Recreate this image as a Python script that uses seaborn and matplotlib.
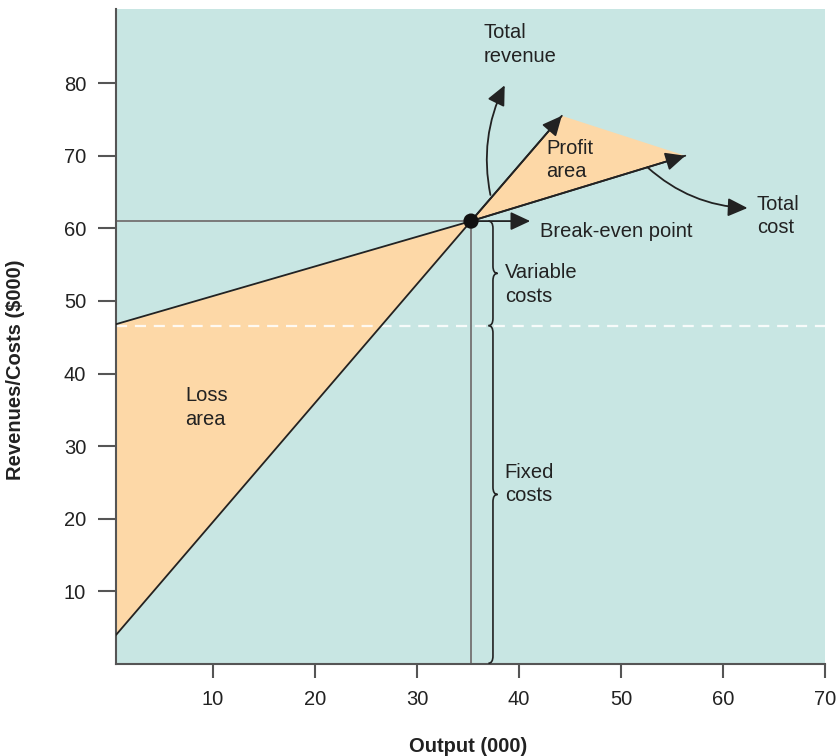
import matplotlib.pyplot as plt
from matplotlib.path import Path
from matplotlib.patches import PathPatch
import pandas as pd
import seaborn as sns

# values
output_tr = [0.5, 35.3, 44.2]
revenue = [4.0, 61.0, 75.5]
output_tc = [0.5, 35.3, 56.3]
cost = [46.8, 61.0, 70.0]
break_even_x = 35.3
break_even_y = 61.0
fixed_cost = 46.6
x_ticks = [10, 20, 30, 40, 50, 60, 70]
y_ticks = [10, 20, 30, 40, 50, 60, 70, 80]

TEAL = '#c8e6e3'
PEACH = '#fdd8a7'
DARK = '#222222'
GREY = '#7a7a7a'
FS = 14.5

sns.set_theme(style='ticks')
plt.rcParams['font.family'] = ['Liberation Sans', 'DejaVu Sans']

fig, ax = plt.subplots(figsize=(8.37, 7.56), dpi=100)
fig.subplots_adjust(left=0.1386, right=0.9857, bottom=0.1217, top=0.988)
ax.set_facecolor(TEAL)

# loss and profit areas
ax.fill_between(output_tr[:2], revenue[:2], cost[:2], color=PEACH, lw=0, zorder=1)
ax.fill([break_even_x, output_tr[2], output_tc[2]],
        [break_even_y, revenue[2], cost[2]], color=PEACH, lw=0, zorder=1)

# fixed cost level
ax.axhline(fixed_cost, color='white', lw=1.6, dashes=(5, 3.5), alpha=0.85, zorder=2)

# guide lines to the break-even point
ax.hlines(break_even_y, output_tr[0], break_even_x, color=GREY, lw=1.4, zorder=2)
ax.vlines(break_even_x, 0, break_even_y, color=GREY, lw=1.4, zorder=2)

tr = pd.DataFrame({'output': output_tr, 'value': revenue})
tc = pd.DataFrame({'output': output_tc, 'value': cost})
sns.lineplot(data=tr, x='output', y='value', color=DARK, lw=1.3, ax=ax, zorder=3)
sns.lineplot(data=tc, x='output', y='value', color=DARK, lw=1.3, ax=ax, zorder=3)

head = '-|>,head_length=0.6,head_width=0.28'
arrow = dict(arrowstyle=head, color=DARK, lw=1.3, mutation_scale=20,
             shrinkA=0, shrinkB=0)
for xs, ys in [(output_tr, revenue), (output_tc, cost)]:
    ax.annotate('', xy=(xs[-1], ys[-1]), xytext=(xs[-2], ys[-2]),
                arrowprops=arrow, zorder=3)

sns.scatterplot(x=[break_even_x], y=[break_even_y], s=120, color='#111111',
                edgecolor='none', ax=ax, zorder=5)

# callout arrows
ax.annotate('', xy=(41.1, break_even_y), xytext=(break_even_x, break_even_y),
            arrowprops=arrow)
ax.annotate('', xy=(38.6, 79.7), xytext=(37.2, 64.6),
            arrowprops=dict(arrow, connectionstyle='arc3,rad=-0.17'))
ax.annotate('', xy=(62.4, 62.8), xytext=(52.6, 68.4),
            arrowprops=dict(arrow, connectionstyle='arc3,rad=0.18'))


def brace(ax, x, y_lo, y_hi, w=0.45, r=1.0):
    ym = (y_lo + y_hi) / 2
    verts = [(x - w, y_hi), (x, y_hi), (x, y_hi - r),
             (x, ym + r), (x, ym), (x + w, ym),
             (x, ym), (x, ym - r),
             (x, y_lo + r), (x, y_lo), (x - w, y_lo)]
    codes = [Path.MOVETO, Path.CURVE3, Path.CURVE3,
             Path.LINETO, Path.CURVE3, Path.CURVE3,
             Path.CURVE3, Path.CURVE3,
             Path.LINETO, Path.CURVE3, Path.CURVE3]
    ax.add_patch(PathPatch(Path(verts, codes), fill=False, ec=DARK, lw=1.2, zorder=4))


brace(ax, 37.45, fixed_cost, break_even_y)
brace(ax, 37.45, 0.1, fixed_cost)

txt = dict(fontsize=FS, color=DARK, ha='left', va='center', linespacing=1.3)
ax.text(36.5, 85.3, 'Total\nrevenue', **txt)
ax.text(42.7, 69.4, 'Profit\narea', **txt)
ax.text(63.3, 61.7, 'Total\ncost', **txt)
ax.text(42.1, 59.5, 'Break-even point', **txt)
ax.text(38.6, 52.3, 'Variable\ncosts', **txt)
ax.text(38.6, 24.8, 'Fixed\ncosts', **txt)
ax.text(7.3, 35.3, 'Loss\narea', **txt)

ax.set_xlim(output_tr[0], 70)
ax.set_ylim(0, 90.2)
ax.set_xticks(x_ticks)
ax.set_yticks(y_ticks)
ax.set_xlabel('Output (000)', fontsize=FS, fontweight='bold', color=DARK)
ax.set_ylabel(r'Revenues/Costs (\$000)', fontsize=FS, fontweight='bold', color=DARK)
ax.xaxis.set_label_coords(0.496, -0.112)
ax.yaxis.set_label_coords(-0.128, 0.449)

sns.despine(ax=ax)
for side in ['left', 'bottom']:
    ax.spines[side].set_color('#555555')
    ax.spines[side].set_linewidth(1.5)
ax.tick_params(axis='y', length=13, width=1.5, color='#555555', pad=8.5,
               labelsize=FS, labelcolor=DARK)
ax.tick_params(axis='x', length=10, width=1.5, color='#555555', pad=9,
               labelsize=FS, labelcolor=DARK)

fig.savefig('out.png', dpi=100)
